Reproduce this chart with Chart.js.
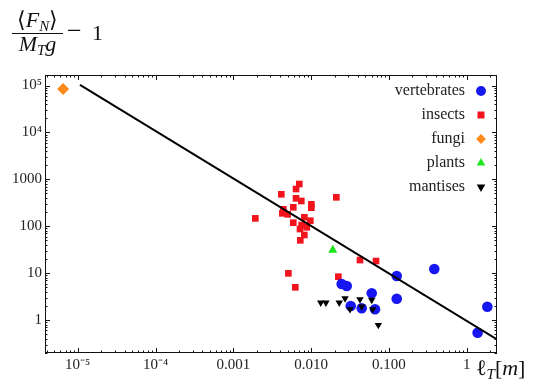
<!DOCTYPE html>
<html>
<head>
<meta charset="utf-8">
<script src="https://cdn.jsdelivr.net/npm/chart.js@4"></script>
<style>
  body { margin: 0; background: #fff; }
  #wrap { position: relative; width: 536px; height: 389px; }
  .m { position: absolute; font-family: 'Liberation Serif', serif; font-size: 22px; line-height: 22px; color: #111; white-space: nowrap; }
  .m sub { font-size: 15px; line-height: 0; vertical-align: -4px; }
</style>
</head>
<body>
<div id="wrap">
  <canvas id="chart" width="536" height="389"></canvas>
  <div class="m" style="left:11px;top:9px;width:53px;text-align:center">⟨<i>F</i><sub><i>N</i></sub>⟩</div>
  <div style="position:absolute;left:12px;top:32.5px;width:51px;height:1.3px;background:#111"></div>
  <div class="m" style="left:11px;top:33px;width:53px;text-align:center"><i>M</i><sub><i>T</i></sub><i>g</i></div>
  <div class="m" style="left:67px;top:20px;font-size:26px">−</div>
  <div class="m" style="left:92px;top:21.5px">1</div>
  <div class="m" style="left:476px;top:356.5px">ℓ<sub><i>T</i></sub>[<i>m</i>]</div>
</div>
<script>
// body length l_T [m] against <F_N>/(M_T g) - 1
var vertebratesX = [0.0247, 0.0287, 0.0601, 0.0323, 0.0447, 0.0663, 0.126, 0.383, 0.126, 1.84, 1.38];
var vertebratesY = [5.86, 5.31, 3.71, 1.99, 1.78, 1.69, 8.67, 12.2, 2.85, 1.92, 0.536];

var insectsX = [0.00705, 0.0064, 0.00414, 0.0064, 0.00748, 0.01007, 0.01007, 0.0059, 0.0044, 0.00427,
                0.0050, 0.00192, 0.00818, 0.00977, 0.0059, 0.00757, 0.00878, 0.0072, 0.00818, 0.00726,
                0.0211, 0.0425, 0.0683, 0.0051, 0.00626, 0.0224];
var insectsY = [794, 621, 479, 393, 345, 293, 248, 253, 229, 188,
                179, 147, 155, 131, 119, 106, 94.8, 87.1, 64.9, 50,
                413, 19.0, 18.1, 9.9, 4.98, 8.38];

var fungiX = [6.5e-6];
var fungiY = [84000];

var plantsX = [0.019];
var plantsY = [31];

var mantisesX = [0.0133, 0.0155, 0.0230, 0.0273, 0.0316, 0.0425, 0.0447, 0.0601, 0.0619, 0.0731];
var mantisesY = [2.34, 2.34, 2.34, 2.90, 1.69, 2.76, 1.92, 2.67, 1.69, 0.78];

// fitted power law, drawn as a straight line
var fitX = [1.07e-5, 2.45];
var fitY = [1.03e5, 0.385];

var xTicks = [1e-5, 1e-4, 0.001, 0.01, 0.1, 1];
var xTickLabels = ['10⁻⁵', '10⁻⁴', '0.001', '0.010', '0.100', '1'];
var yTicks = [1, 10, 100, 1000, 1e4, 1e5];
var yTickLabels = ['1', '10', '100', '1000', '10⁴', '10⁵'];

function points(xs, ys) {
    return xs.map(function(x, i) { return { x: x, y: ys[i] }; });
}

function logTicks(min, max) {
    var out = [];
    for (var d = Math.floor(Math.log10(min)); d <= Math.ceil(Math.log10(max)); d++) {
        for (var m = 1; m < 10; m++) {
            var v = m * Math.pow(10, d);
            if (v >= min && v <= max) out.push({ v: v, major: m === 1 });
        }
    }
    return out;
}

// mathematica style frame with inward ticks on all four sides
var frame = {
    id: 'frame',
    afterLayout: function(chart) {
        // pin the legend column to the top right corner of the plot
        var L = chart.legend, a = chart.chartArea;
        var w = L.width, h = L.height;
        L.left = a.right - w; L.right = a.right;
        L.top = a.top; L.bottom = a.top + h;
    },
    afterDatasetsDraw: function(chart) {
        var ctx = chart.ctx, a = chart.chartArea;
        var xs = chart.scales.x, ys = chart.scales.y;
        ctx.save();
        ctx.strokeStyle = '#111';
        ctx.lineWidth = 1;
        ctx.strokeRect(a.left + 0.5, a.top + 0.5, a.right - a.left - 1, a.bottom - a.top - 1);
        ctx.beginPath();
        logTicks(xs.min, xs.max).forEach(function(t) {
            var px = Math.round(xs.getPixelForValue(t.v)) + 0.5;
            var len = t.major ? 5 : 2.5;
            ctx.moveTo(px, a.bottom); ctx.lineTo(px, a.bottom - len);
            ctx.moveTo(px, a.top); ctx.lineTo(px, a.top + len);
        });
        logTicks(ys.min, ys.max).forEach(function(t) {
            var py = Math.round(ys.getPixelForValue(t.v)) + 0.5;
            var len = t.major ? 5 : 2.5;
            ctx.moveTo(a.left, py); ctx.lineTo(a.left + len, py);
            ctx.moveTo(a.right, py); ctx.lineTo(a.right - len, py);
        });
        ctx.stroke();
        ctx.restore();
    }
};

var serif = "'Liberation Serif', serif";

new Chart(document.getElementById('chart').getContext('2d'), {
    type: 'scatter',
    data: {
        datasets: [
            { label: 'vertebrates', data: points(vertebratesX, vertebratesY), order: 2,
              pointStyle: 'circle', pointRadius: 5.3, backgroundColor: '#1717f2', borderWidth: 0 },
            { label: 'insects', data: points(insectsX, insectsY), order: 3,
              pointStyle: 'rect', pointRadius: 4.7, backgroundColor: '#f2141c', borderWidth: 0 },
            { label: 'fungi', data: points(fungiX, fungiY), order: 5,
              pointStyle: 'rectRot', pointRadius: 6, backgroundColor: '#ff8a1c', borderWidth: 0 },
            { label: 'plants', data: points(plantsX, plantsY), order: 4,
              pointStyle: 'triangle', pointRadius: 5.2, backgroundColor: '#1ee61e', borderWidth: 0 },
            { label: 'mantises', data: points(mantisesX, mantisesY), order: 1,
              pointStyle: 'triangle', pointRotation: 180, pointRadius: 4.3, backgroundColor: '#000', borderWidth: 0 },
            { label: '', data: points(fitX, fitY), order: 0, showLine: true,
              pointRadius: 0, borderColor: '#000', borderWidth: 2, backgroundColor: '#000' }
        ]
    },
    options: {
        responsive: false,
        animation: false,
        events: [],
        layout: { padding: { top: 75, right: 39, bottom: 0, left: 0 } },
        plugins: {
            tooltip: { enabled: false },
            legend: {
                position: 'chartArea',
                align: 'start',
                rtl: true,
                labels: {
                    usePointStyle: true,
                    boxHeight: 7,
                    padding: 8,
                    color: '#222',
                    font: { family: serif, size: 16 },
                    filter: function(item) { return item.text !== ''; },
                    sort: function(a, b) { return a.datasetIndex - b.datasetIndex; }
                }
            }
        },
        scales: {
            x: {
                type: 'logarithmic',
                min: 3.8e-6,
                max: 2.45,
                grid: { display: false, drawTicks: false },
                border: { display: false },
                afterBuildTicks: function(s) { s.ticks = xTicks.map(function(v) { return { value: v }; }); },
                afterFit: function(s) { s.height = 36; },
                ticks: {
                    autoSkip: false, maxRotation: 0, padding: 3, color: '#222',
                    font: { family: serif, size: 15 },
                    callback: function(v, i) { return xTickLabels[i]; }
                }
            },
            y: {
                type: 'logarithmic',
                min: 0.198,
                max: 1.675e5,
                grid: { display: false, drawTicks: false },
                border: { display: false },
                afterBuildTicks: function(s) { s.ticks = yTicks.map(function(v) { return { value: v }; }); },
                afterFit: function(s) { s.width = 45; },
                ticks: {
                    autoSkip: false, padding: 3, color: '#222',
                    font: { family: serif, size: 15 },
                    callback: function(v, i) { return yTickLabels[i]; }
                }
            }
        }
    },
    plugins: [frame]
});
</script>
</body>
</html>
